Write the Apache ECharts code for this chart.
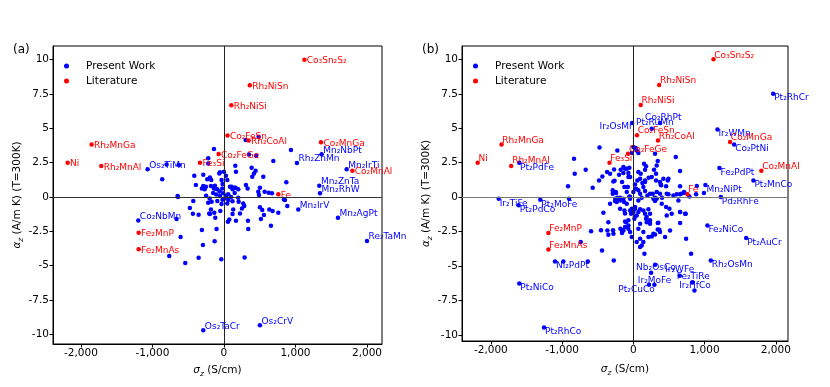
<!DOCTYPE html>
<html>
<head>
<meta charset="utf-8">
<script src="https://cdn.jsdelivr.net/npm/echarts@6/dist/echarts.min.js"></script>
<style>html,body{margin:0;padding:0;background:#fff}#c{width:830px;height:387px}</style>
</head>
<body>
<div id="c"></div>
<script>
// ---------------- DATA ----------------
const xTicks = [-2000, -1000, 0, 1000, 2000];
const yTicks = [-10, -7.5, -5, -2.5, 0, 2.5, 5, 7.5, 10];
const panelTitles = ['(a)', '(b)'];
const seriesNames = ['Present Work', 'Literature'];

// Literature values (same in both panels): [name, sigma_z, alpha_z]
const literature = [
  ['Ni', -2185, 2.50], ['Rh₂MnGa', -1850, 3.82], ['Rh₂MnAl', -1715, 2.26],
  ['Fe₃Si', -335, 2.50], ['Co₂FeGe', -74, 3.14], ['Co₂FeSn', 50, 4.49],
  ['Rh₂CoAl', 345, 4.11], ['Rh₂NiSi', 103, 6.68], ['Rh₂NiSn', 362, 8.14],
  ['Co₃Sn₂S₂', 1125, 10.0], ['Co₂MnGa', 1357, 4.00], ['Co₂MnAl', 1796, 1.92],
  ['Fe', 760, 0.20], ['Fe₂MnP', -1192, -2.60], ['Fe₂MnAs', -1192, -3.80]
];

// Panel (a): labelled present-work points
const presentANamed = [
  ['Os₂TiMn', -1067, 2.02], ['Co₂NbMn', -1198, -1.70], ['Os₂TaCr', -289, -9.70],
  ['Os₂CrV', 503, -9.33], ['Rh₂ZnMn', 1021, 2.48], ['Mn₂NbPt', 1366, 3.11],
  ['Mn₂IrTi', 1716, 2.02], ['Mn₂ZnTa', 1333, 0.82], ['Mn₂RhW', 1343, 0.27],
  ['Mn₂IrV', 1039, -0.90], ['Mn₂AgPt', 1594, -1.50], ['Re₂TaMn', 2000, -3.20]
];
// Panel (a): other present-work points
const presentA = [
  [-863,1.29],[-802,2.38],[-629,2.33],[-415,1.55],[-220,2.82],[-220,2.45],[-140,3.50],
  [-56,1.80],[0,1.85],[-196,1.43],[-177,1.24],[28,1.55],[47,1.24],[159,2.28],[168,1.85],
  [350,3.10],[448,3.01],[303,4.15],[485,4.40],[387,2.14],[420,1.72],[443,1.92],[396,1.48],
  [690,2.62],[937,3.43],[550,1.48],[-392,0.87],[-289,0.80],[-308,0.63],[-270,0.56],
  [-182,0.80],[-140,0.63],[-93,0.56],[-23,0.63],[84,0.75],[163,0.68],[200,0.56],[121,0.56],
  [308,0.87],[331,0.63],[480,0.39],[490,0.15],[569,0.39],[625,0.32],[671,0.27],[503,0.68],
  [-107,0.19],[-56,0.07],[-9,0.27],[28,0.07],[200,-0.05],[-93,-0.29],[-172,-0.34],
  [-648,0.07],[-429,-0.29],[270,-0.46],[853,-0.22],[872,1.07],[839,-0.17],
  [-289,1.63],[-233,1.29],[-65,1.72],[-33,1.24],[107,0.75],[149,0.68],[-19,0.95],
  [-126,0.83],[-112,0.61],[-476,-0.80],[-434,-1.22],[-354,-1.29],[-308,-2.40],[-294,-3.50],
  [-220,-0.42],[-206,-1.19],[-662,-1.60],[-643,0.00],[-606,-2.90],[-765,-4.30],[-541,-4.80],
  [-354,-4.42],[-252,0.75],[-196,-1.24],[-182,-0.90],[-135,-1.14],[-121,-1.51],[-51,-1.02],
  [-33,-0.51],[47,-0.46],[61,-0.22],[130,-0.90],[121,-1.24],[224,-1.19],[205,-0.34],
  [284,-0.66],[252,-0.83],[75,-1.63],[56,-1.80],[168,-1.72],[336,-1.72],[503,-0.75],
  [536,-0.95],[559,-1.31],[517,-1.60],[634,-0.90],[681,-1.02],[760,-1.14],[886,-0.66],
  [-103,-2.33],[340,-2.33],[657,-2.09],[-130,-3.21],[-37,-4.52],[289,-4.40],
  [-250,0.10],[-200,-0.10],[-150,0.30],[-60,0.40],[10,-0.10],[60,0.20],[100,0.00],
  [150,0.30],[120,-0.30],[-20,-0.20]
];

// Panel (b): labelled present-work points
const presentBNamed = [
  ['Pt₂PdFe', -1601, 2.50], ['Ir₂OsMn', -18, 5.38], ['Pt₂RuMn', 258, 4.97],
  ['Co₂RhPt', 375, 5.38], ['Pt₂RhCr', 1962, 7.51], ['Ir₂WMn', 1180, 4.90],
  ['Co₂PtNi', 1414, 3.81], ['Fe₂PdPt', 1208, 2.11], ['Pt₂MnCo', 1685, 1.21],
  ['Mn₂NiPt', 1011, 0.87], ['Pd₂RhFe', 1227, 0.00], ['Fe₂NiCo', 1039, -2.06],
  ['Pt₂AuCr', 1583, -2.98], ['Rh₂OsMn', 1087, -4.60], ['Nb₂OsCo', 305, -4.91],
  ['Ir₂WFe', 249, -5.50], ['Ir₂MoFe', 295, -6.37], ['Pt₂CuCo', 220, -6.37],
  ['Fe₂TiRe', 651, -5.71], ['Ir₂HfCo', 857, -6.78], ['Ir₂TiFe', -1890, -0.12],
  ['Pt₂PdCo', -1610, -0.60], ['Pt₂MoFe', -1306, -0.19], ['Ni₂PdPt', -1100, -4.67],
  ['Pt₂NiCo', -1601, -6.27], ['Pt₂RhCo', -1254, -9.47]
];
// Panel (b): other present-work points
const presentB = [
  [-833,2.79],[-823,1.70],[-917,0.79],[-669,1.99],[-475,3.60],[-482,1.21],[-435,1.50],
  [-369,1.82],[-327,1.70],[-271,2.01],[-225,3.39],[-264,1.18],[-201,1.63],[-140,2.18],
  [-93,2.06],[-70,1.45],[-126,0.73],[-79,0.73],[33,3.56],[46,3.39],[-23,3.20],[-178,1.99],
  [-140,1.75],[-159,1.09],[-56,2.13],[-70,1.75],[-46,1.45],[150,2.42],[178,2.23],[164,1.99],
  [70,1.82],[103,1.70],[94,1.33],[56,1.21],[23,0.92],[37,0.61],[126,1.02],[164,1.21],
  [215,1.40],[290,1.99],[318,1.70],[342,2.62],[318,1.21],[374,1.09],[421,1.33],[595,2.91],
  [655,1.89],[482,1.21],[459,0.78],[655,0.78],[-571,0.68],[-290,0.49],[-243,0.29],
  [-224,-0.05],[-187,-0.05],[-93,0.36],[-56,0.05],[0,0.36],[70,0.49],[164,0.44],[197,0.12],
  [272,0.24],[328,0.36],[304,-0.05],[402,-0.05],[468,0.24],[562,0.12],[669,0.24],[711,0.36],
  [786,0.05],[890,0.80],[990,0.30],[880,0.20],[-117,2.06],[328,2.30],[258,1.45],[492,1.33],
  [0,3.63],[304,3.15],[70,3.20],[-903,-0.12],[-739,-3.27],[-983,-4.67],[-640,-4.67],
  [-594,-2.49],[-454,-2.40],[-351,-2.73],[-285,-2.40],[-351,-1.82],[-159,-2.42],[-159,-2.60],
  [-421,-1.13],[-327,-0.48],[-275,-4.60],[-440,-3.87],[-290,0.25],[-247,0.36],[-257,-0.29],
  [-187,-0.24],[-131,-0.36],[-84,0.73],[-281,1.14],[-70,-2.06],[-103,-1.82],[-117,-2.18],
  [-365,-2.42],[-280,-2.66],[-182,-2.30],[-70,-2.30],[-46,-2.54],[-23,-2.90],[-117,-1.77],
  [-70,-1.69],[-253,-0.12],[-234,-0.36],[-140,-0.12],[-46,0.00],[-187,-0.85],[-126,-0.97],
  [-46,-0.97],[-32,-1.21],[23,-0.85],[47,-1.33],[14,-1.57],[70,-1.09],[94,-0.89],[140,-0.97],
  [164,-1.21],[211,-0.89],[234,-1.21],[178,-1.57],[234,-1.69],[94,-1.94],[70,-2.30],
  [94,-3.03],[140,-2.54],[211,-2.90],[281,-2.66],[342,-2.35],[351,-1.86],[459,-0.72],
  [506,-0.85],[468,-1.33],[538,-1.21],[655,-1.09],[725,-1.21],[445,-2.90],[155,-4.12],
  [117,-3.51],[-93,-0.48],[-117,-1.20],[-140,-2.42],[24,-1.40],[47,-3.27],[-46,-0.12],
  [-23,-0.85],[0,-1.09],[24,-0.72],[70,-0.24],[117,-0.05],[94,0.24],[140,0.73],[164,1.09],
  [140,-3.27],[94,-3.63],[187,-1.45],[187,-1.82],[234,-1.94],[258,-2.86],[304,-2.71],
  [234,0.24],[281,-0.12],[328,-0.12],[304,-0.29],[374,0.24],[389,0.85],[398,-0.48],
  [342,-1.89],[365,-2.37],[374,-2.54],[515,-2.42],[492,0.20],[609,0.20],[656,0.20],
  [632,-0.24],[656,-1.09],[656,-1.89],[735,-1.21],[717,0.29],[740,-3.03],[810,-4.12],
  [384,0.92],[829,-6.18]
];

// ---------------- STYLE / LAYOUT ----------------
const FONT = 'DejaVu Sans';
const BLUE = '#0000ff', RED = '#ff0000';
const DOT = 4.5;
// label shifts [dx, dy] in pixels from the dot centre to the label's left-middle
const shiftA = { red: [2.4, 1.3], blue: [1.6, -4] };
const shiftBDefault = { red: [0.8, -4.2], blue: [1, 4.5] };
const shiftB = {
  'Pt₂PdFe': [0.7, 5], 'Ir₂OsMn': [-32.5, 3.3], 'Pt₂RuMn': [-15.7, -5.6],
  'Co₂RhPt': [-15, -5.4], 'Nb₂OsCo': [-19, 2.7], 'Ir₂WFe': [14, -3],
  'Ir₂MoFe': [-16.6, -4.3], 'Pt₂CuCo': [-30.7, 4.7], 'Fe₂TiRe': [-3, 1.4],
  'Ir₂HfCo': [-15.3, -5], 'Rh₂MnAl': [1, -5], 'Fe': [0.6, -4.7]
};

function labelled(items, color, shiftFn) {
  return items.map(([n, x, y]) => {
    const s = shiftFn(n);
    return {
      name: n, value: [x, y],
      label: {
        show: true, formatter: n, color: color, fontSize: 9, fontFamily: FONT,
        position: [DOT / 2 + s[0], DOT / 2 + s[1]], align: 'left', verticalAlign: 'middle'
      }
    };
  });
}

function axisNameStyle() {
  return {
    color: '#000', fontSize: 10.5, fontFamily: FONT,
    rich: {
      i: { fontStyle: 'italic', fontSize: 10.5, fontFamily: FONT, color: '#000' },
      s: { fontStyle: 'italic', fontSize: 7.5, fontFamily: FONT, color: '#000', verticalAlign: 'bottom', padding: [7, 0, 0, 0] }
    }
  };
}
function xAxisFor(grid, min, max, gap) {
  return {
    type: 'value', gridIndex: grid, min: min, max: max,
    name: '{i|σ}{s|z} (S/cm)', nameLocation: 'middle', nameGap: gap,
    nameTextStyle: axisNameStyle(),
    axisLine: { show: true, onZero: false, lineStyle: { color: '#000', width: 1 } },
    axisTick: { show: true, length: 3.5, customValues: xTicks, lineStyle: { color: '#000' } },
    axisLabel: { customValues: xTicks, fontSize: 10.5, fontFamily: FONT, color: '#000', margin: 4 },
    splitLine: { show: false }
  };
}
function yAxisFor(grid, min, max) {
  return {
    type: 'value', gridIndex: grid, min: min, max: max,
    name: '{i|α}{s|z} (A/m K) (T=300K)', nameLocation: 'middle', nameGap: 26, nameRotate: 90,
    nameTextStyle: axisNameStyle(),
    axisLine: { show: true, onZero: false, lineStyle: { color: '#000', width: 1 } },
    axisTick: { show: true, length: 3.5, customValues: yTicks, lineStyle: { color: '#000' } },
    axisLabel: { customValues: yTicks, fontSize: 10.5, fontFamily: FONT, color: '#000', margin: 4,
      formatter: v => String(v) },
    splitLine: { show: false }
  };
}
function zeroLines(hColor) {
  return {
    silent: true, symbol: ['none', 'none'], label: { show: false },
    data: [
      { xAxis: 0, lineStyle: { color: '#222', width: 1, type: 'solid' } },
      { yAxis: 0, lineStyle: { color: hColor, width: 1, type: 'solid' } }
    ]
  };
}
function legendAt(left) {
  return {
    left: left, top: 54.5, orient: 'vertical', itemWidth: 29, itemHeight: 5, itemGap: 2,
    icon: 'circle', data: seriesNames,
    textStyle: { fontSize: 10.5, fontFamily: FONT, color: '#000', lineHeight: 13 }
  };
}

const presentAData = presentA.map(p => ({ value: p })).concat(
  labelled(presentANamed, BLUE, () => shiftA.blue));
const litAData = labelled(literature, RED, () => shiftA.red);
const presentBData = presentB.map(p => ({ value: p })).concat(
  labelled(presentBNamed, BLUE, n => shiftB[n] || shiftBDefault.blue));
const litBData = labelled(literature, RED, n => shiftB[n] || shiftBDefault.red);

const option = {
  animation: false,
  backgroundColor: '#fff',
  textStyle: { fontFamily: FONT },
  grid: [
    { left: 53, right: 448, top: 46, bottom: 43, show: true, borderColor: '#000', borderWidth: 1 },
    { left: 462, right: 42, top: 46, bottom: 46, show: true, borderColor: '#000', borderWidth: 1 }
  ],
  xAxis: [xAxisFor(0, -2390, 2210, 19), xAxisFor(1, -2405, 2170, 21)],
  yAxis: [yAxisFor(0, -10.7, 11.0), yAxisFor(1, -10.45, 10.97)],
  legend: [legendAt(59), legendAt(468)],
  graphic: [
    { type: 'text', left: 13, top: 44, style: { text: panelTitles[0], font: '12px "DejaVu Sans"', fill: '#000' } },
    { type: 'text', left: 422, top: 44, style: { text: panelTitles[1], font: '12px "DejaVu Sans"', fill: '#000' } }
  ],
  series: [
    { name: seriesNames[0], type: 'scatter', xAxisIndex: 0, yAxisIndex: 0, symbolSize: DOT,
      itemStyle: { color: BLUE, opacity: 1 }, data: presentAData, markLine: zeroLines('#333'), z: 3 },
    { name: seriesNames[1], type: 'scatter', xAxisIndex: 0, yAxisIndex: 0, symbolSize: DOT,
      itemStyle: { color: RED, opacity: 1 }, data: litAData, z: 4 },
    { name: seriesNames[0], type: 'scatter', xAxisIndex: 1, yAxisIndex: 1, symbolSize: DOT,
      itemStyle: { color: BLUE, opacity: 1 }, data: presentBData, markLine: zeroLines('#777'), z: 3 },
    { name: seriesNames[1], type: 'scatter', xAxisIndex: 1, yAxisIndex: 1, symbolSize: DOT,
      itemStyle: { color: RED, opacity: 1 }, data: litBData, z: 4 }
  ]
};
const chart = echarts.init(document.getElementById('c'), null, { renderer: 'canvas' });
chart.setOption(option);
</script>
</body>
</html>
